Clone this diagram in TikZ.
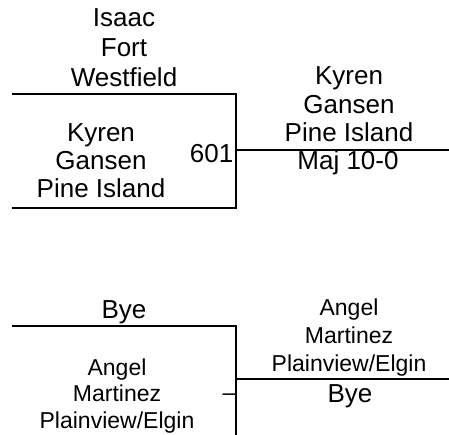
\documentclass[tikz,border=0pt]{standalone}
\usepackage{fontspec}
\setmainfont{Liberation Sans}
\begin{document}
\begin{tikzpicture}[x=1pt,y=-1pt,
  big/.style={inner sep=0pt,anchor=base,font=\fontsize{26}{30}\selectfont},
  small/.style={inner sep=0pt,anchor=base,font=\fontsize{23}{27}\selectfont},
  ln/.style={line width=2pt}]
\useasboundingbox (0,0) rectangle (449,435);
% top bracket
\coordinate (t1) at (12,94.3);
\coordinate (t2) at (236,94.3);
\coordinate (t3) at (236,208);
\coordinate (t4) at (12,208);
\coordinate (tm) at (236,150);
\coordinate (te) at (449,150);
\draw[ln] (t1) -- (t2) -- (t3) -- (t4);
\draw[ln] (tm) -- (te);
% bottom bracket
\coordinate (b1) at (12,325.7);
\coordinate (b2) at (236,325.7);
\coordinate (b3) at (236,440);
\coordinate (bm) at (236,379.3);
\coordinate (be) at (449,379.3);
\draw[ln] (b1) -- (b2) -- (b3);
\draw[ln] (bm) -- (be);
% top texts
\node[big] (a1) at (124,26.7) {Isaac};
\node[big] (a2) at (124,56.7) {Fort};
\node[big] (a3) at (124,86.7) {Westfield};
\node[big] (k1) at (101,141.7) {Kyren};
\node[big] (k2) at (101,169.5) {Gansen};
\node[big] (k3) at (101,197.3) {Pine Island};
\node[big,anchor=base east] (m601) at (233.5,162.7) {601};
\node[big] (r1) at (349,84.3) {Kyren};
\node[big] (r2) at (349,113.2) {Gansen};
\node[big] (r3) at (349,141.7) {Pine Island};
\node[big] (r4) at (348,170) {Maj 10-0};
% bottom texts
\node[big] (y1) at (124,318.3) {Bye};
\node[small] (g1) at (117,375) {Angel};
\node[small] (g2) at (117,401.7) {Martinez};
\node[small] (g3) at (117,428.3) {Plainview/Elgin};
\node[small,anchor=base east] (dash) at (235.5,400) {–};
\node[small] (h1) at (349,315) {Angel};
\node[small] (h2) at (349,343.3) {Martinez};
\node[small] (h3) at (349,371.7) {Plainview/Elgin};
\node[big] (y2) at (350,402.7) {Bye};
\end{tikzpicture}
\end{document}
